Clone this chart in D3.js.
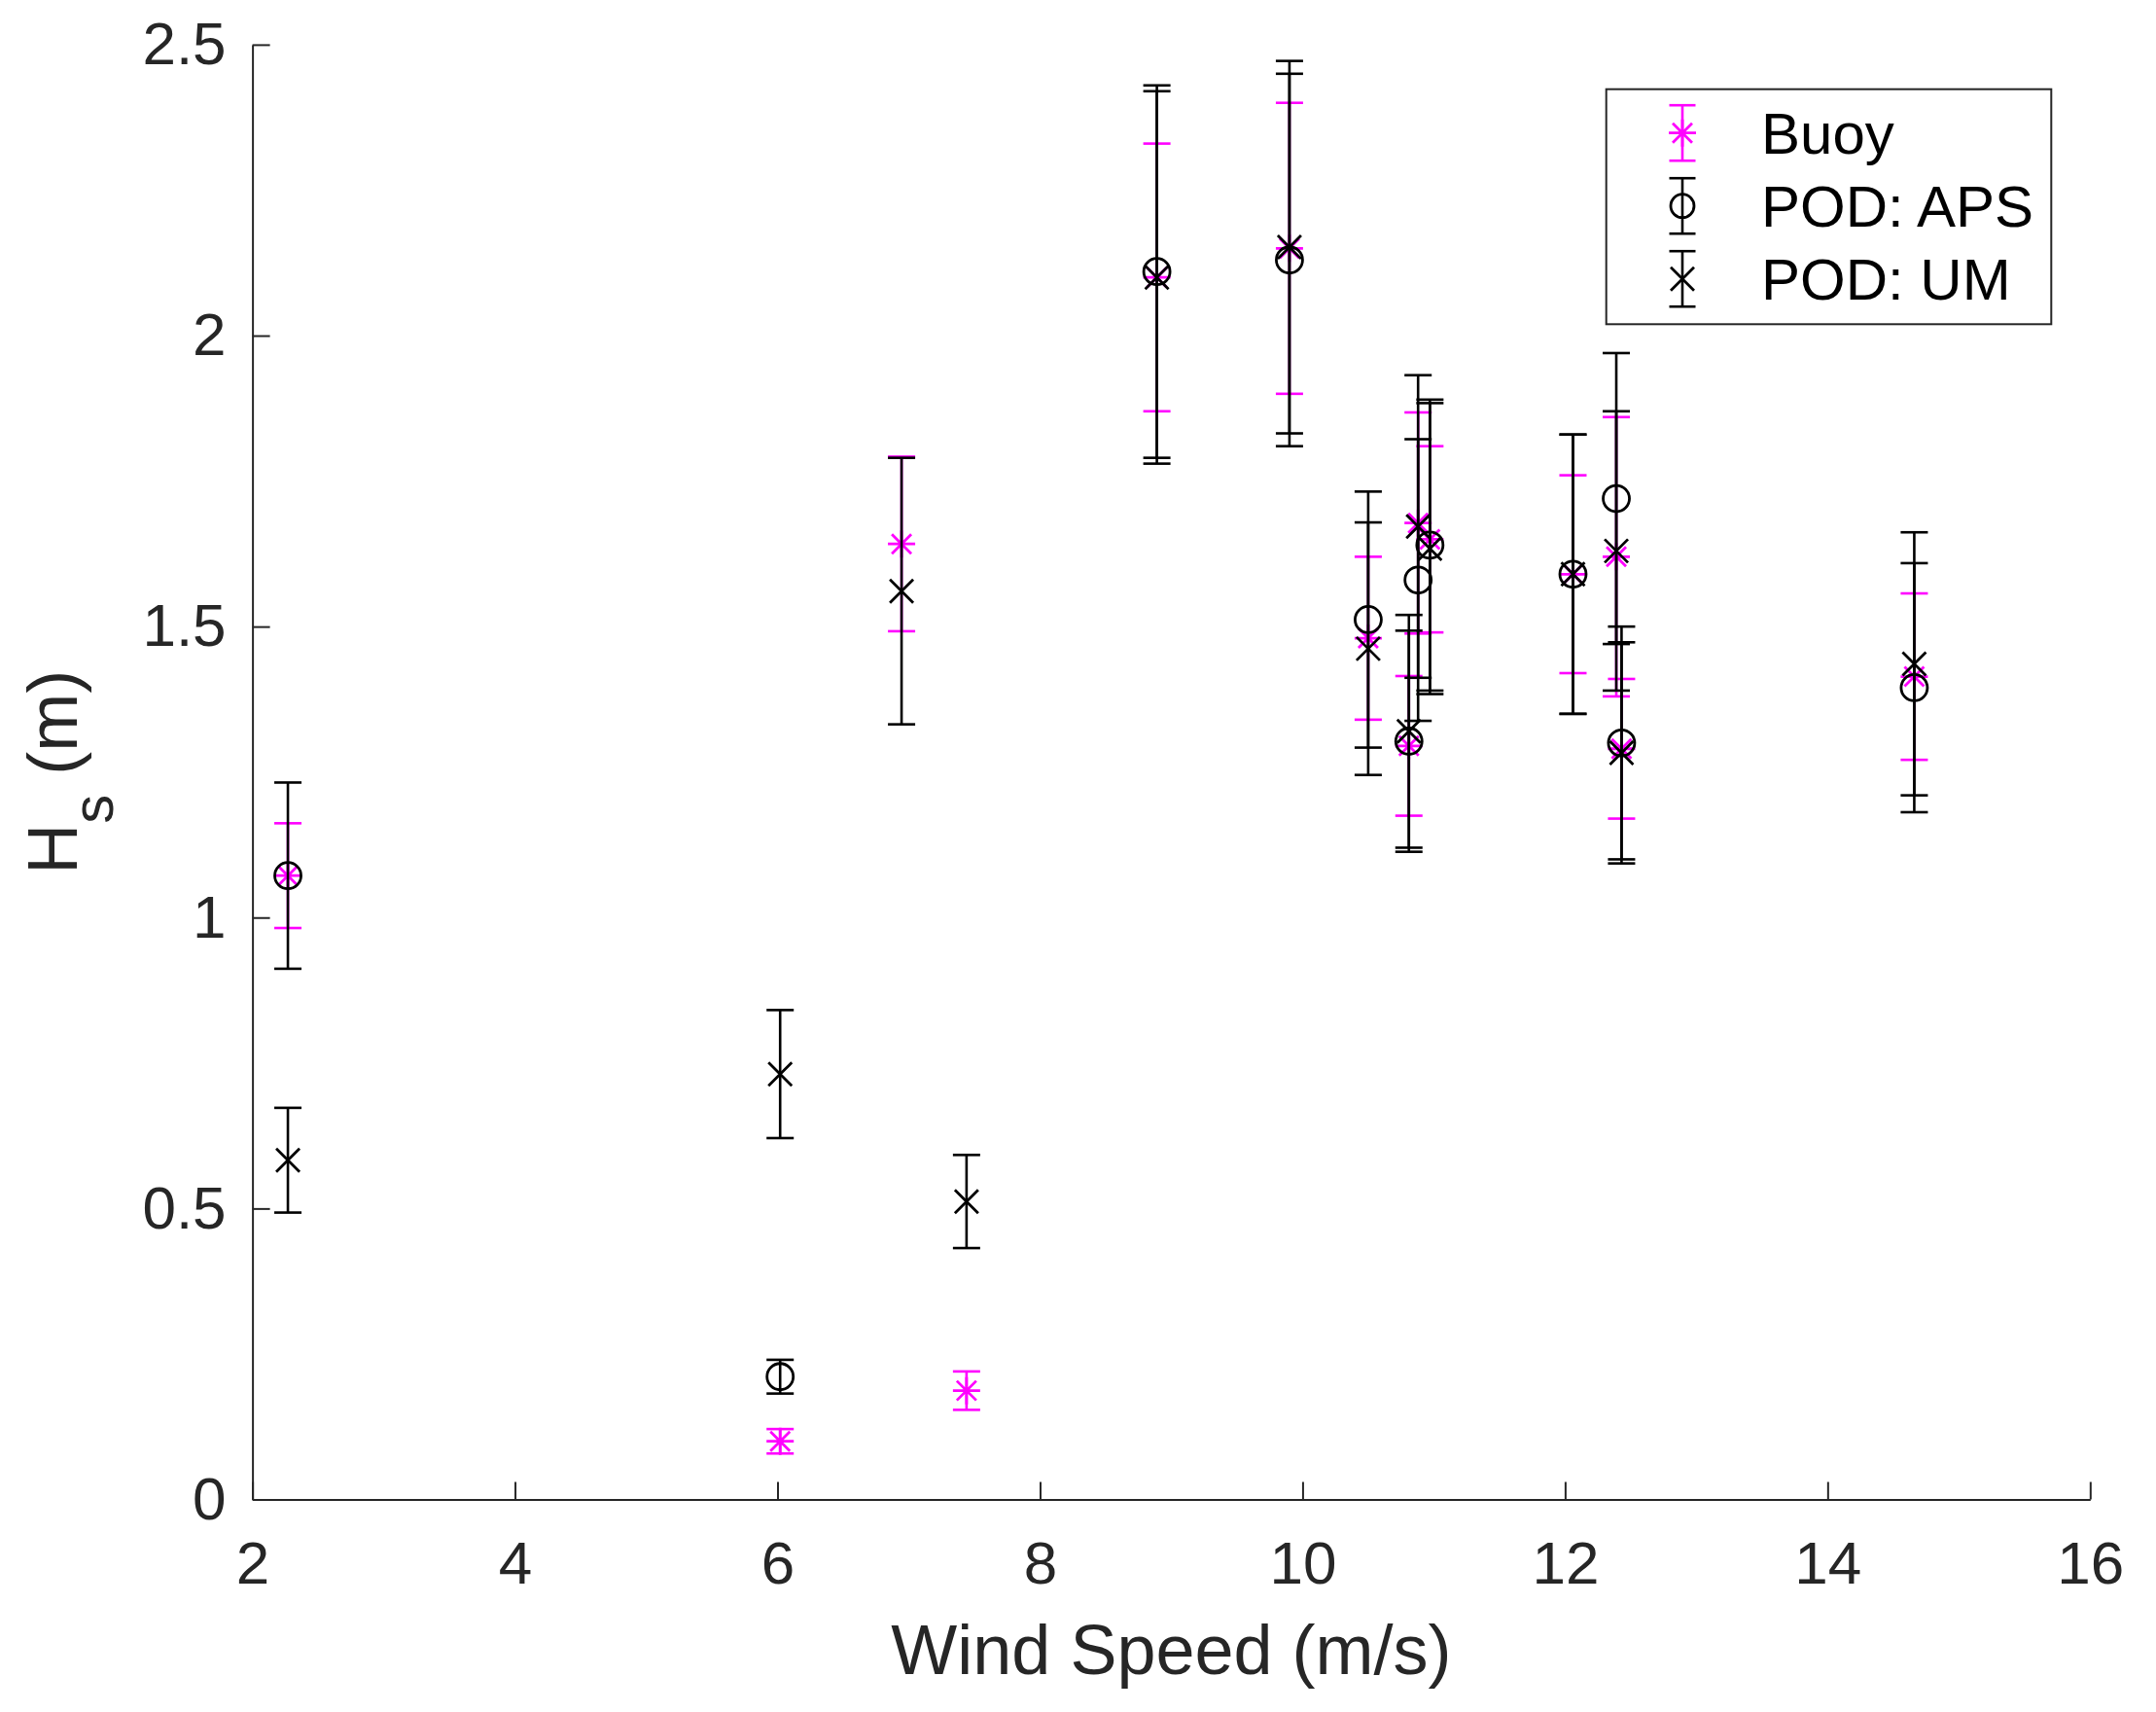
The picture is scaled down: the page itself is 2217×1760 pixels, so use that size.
<!DOCTYPE html>
<html>
<head>
<meta charset="utf-8">
<script src="https://cdn.jsdelivr.net/npm/d3@7"></script>
<style>
  html, body { margin: 0; padding: 0; background: #ffffff; }
  svg { display: block; font-family: "Liberation Sans", Arial, Helvetica, sans-serif; }
</style>
</head>
<body>
<svg id="chart" width="2217" height="1760"></svg>
<script>
// wind speed of each sample (m/s)
var windSpeed = [2.27, 6.02, 6.945, 7.44, 8.89, 9.90, 10.50, 10.81, 10.88, 10.97, 12.06, 12.39, 12.43, 14.66];

// significant wave height (m) and error half-widths
var buoyHs  = [1.072, 0.100, 1.642, 0.187, 2.100, 2.150, 1.480, 1.295, 1.678, 1.650, 1.590, 1.620, 1.290, 1.414];
var buoyErr = [0.090, 0.021, 0.150, 0.033, 0.230, 0.250, 0.140, 0.120, 0.190, 0.160, 0.170, 0.240, 0.120, 0.143];

var apsHs   = [1.072, 0.211, null, null, 2.110, 2.130, 1.512, 1.303, 1.580, 1.640, 1.590, 1.720, 1.300, 1.395];
var apsErr  = [0.160, 0.029, null, null, 0.320, 0.320, 0.220, 0.190, 0.242, 0.250, 0.240, 0.250, 0.200, 0.214];

var umHs    = [0.583, 0.731, 1.561, 0.512, 2.100, 2.152, 1.462, 1.320, 1.672, 1.634, 1.590, 1.630, 1.283, 1.436];
var umErr   = [0.090, 0.110, 0.229, 0.080, 0.320, 0.320, 0.217, 0.200, 0.260, 0.250, 0.240, 0.240, 0.190, 0.226];

var xTicks = [2, 4, 6, 8, 10, 12, 14, 16];
var yTicks = [0, 0.5, 1, 1.5, 2, 2.5];
var seriesNames = ["Buoy", "POD: APS", "POD: UM"];

var axisColour = "#262626";
var magenta = "#ff00ff";

var svg = d3.select("#chart");
svg.append("rect").attr("width", 2217).attr("height", 1760).attr("fill", "#ffffff");

var plot = { left: 259.6, right: 2149.3, top: 45.9, bottom: 1541.5 };

// scales
var xScale = d3.scaleLinear().domain([2, 16]).range([plot.left, plot.right]);
var yScale = d3.scaleLinear().domain([0, 2.5]).range([plot.bottom, plot.top]);

// axes, ticks pointing inward like matlab
var xAxis = d3.axisBottom(xScale)
	.tickValues(xTicks)
	.tickFormat(function(d) { return String(d); })
	.tickSizeInner(-18)
	.tickSizeOuter(0)
	.tickPadding(42);
var yAxis = d3.axisLeft(yScale)
	.tickValues(yTicks)
	.tickFormat(function(d) { return String(d); })
	.tickSizeInner(-18)
	.tickSizeOuter(0)
	.tickPadding(27);

var gx = svg.append("g")
	.attr("class", "axis x")
	.attr("transform", "translate(0," + plot.bottom + ")")
	.call(xAxis);
var gy = svg.append("g")
	.attr("class", "axis y")
	.attr("transform", "translate(" + plot.left + ",0)")
	.call(yAxis);

svg.selectAll(".axis path, .axis line")
	.style("stroke", axisColour)
	.style("stroke-width", 2);
svg.selectAll(".axis text")
	.style("fill", axisColour)
	.style("font-size", "62px")
	.style("font-family", "\"Liberation Sans\", Arial, Helvetica, sans-serif");

// axis labels
svg.append("text")
	.attr("x", (plot.left + plot.right) / 2)
	.attr("y", 1721)
	.style("text-anchor", "middle")
	.style("font-size", "72px")
	.style("fill", axisColour)
	.text("Wind Speed (m/s)");

var yLabel = svg.append("text")
	.attr("transform", "translate(78.6," + ((plot.top + plot.bottom) / 2) + ") rotate(-90)")
	.style("text-anchor", "middle")
	.style("font-size", "72px")
	.style("fill", axisColour);
yLabel.append("tspan").text("H");
yLabel.append("tspan").attr("dy", 37).style("font-size", "60px").text("s");
yLabel.append("tspan").attr("dy", -37).text(" (m)");

// marker shapes
var capHalf = 14;
function markerPath(kind) {
	if (kind === "star") {
		var r = 14, d = 10;
		return "M" + (-r) + ",0L" + r + ",0M0," + (-r) + "L0," + r +
			"M" + (-d) + "," + (-d) + "L" + d + "," + d + "M" + (-d) + "," + d + "L" + d + "," + (-d);
	}
	if (kind === "x") {
		var h = 12;
		return "M" + (-h) + "," + (-h) + "L" + h + "," + h + "M" + (-h) + "," + h + "L" + h + "," + (-h);
	}
	return null;
}

function drawSeries(values, errors, colour, kind) {
	var rows = windSpeed.map(function(x, i) {
		return { x: x, y: values[i], e: errors[i] };
	}).filter(function(d) { return d.y !== null; });

	var g = svg.append("g").attr("class", "series " + kind);
	var bars = g.selectAll(".bar")
		.data(rows)
		.enter()
		.append("g")
		.attr("class", "bar");

	bars.append("line")
		.attr("x1", function(d) { return xScale(d.x); })
		.attr("x2", function(d) { return xScale(d.x); })
		.attr("y1", function(d) { return yScale(d.y + d.e); })
		.attr("y2", function(d) { return yScale(d.y - d.e); });
	bars.append("line")
		.attr("x1", function(d) { return xScale(d.x) - capHalf; })
		.attr("x2", function(d) { return xScale(d.x) + capHalf; })
		.attr("y1", function(d) { return yScale(d.y + d.e); })
		.attr("y2", function(d) { return yScale(d.y + d.e); });
	bars.append("line")
		.attr("x1", function(d) { return xScale(d.x) - capHalf; })
		.attr("x2", function(d) { return xScale(d.x) + capHalf; })
		.attr("y1", function(d) { return yScale(d.y - d.e); })
		.attr("y2", function(d) { return yScale(d.y - d.e); });
	bars.selectAll("line")
		.style("stroke", colour)
		.style("stroke-width", 2.6);

	if (kind === "circle") {
		bars.append("circle")
			.attr("cx", function(d) { return xScale(d.x); })
			.attr("cy", function(d) { return yScale(d.y); })
			.attr("r", 13.5)
			.style("fill", "none")
			.style("stroke", colour)
			.style("stroke-width", 2.8);
	} else {
		bars.append("path")
			.attr("transform", function(d) { return "translate(" + xScale(d.x) + "," + yScale(d.y) + ")"; })
			.attr("d", markerPath(kind))
			.style("fill", "none")
			.style("stroke", colour)
			.style("stroke-width", 2.8);
	}
}

drawSeries(buoyHs, buoyErr, magenta, "star");
drawSeries(apsHs, apsErr, "#000000", "circle");
drawSeries(umHs, umErr, "#000000", "x");

// legend
var legend = svg.append("g").attr("class", "legend");
legend.append("rect")
	.attr("x", 1651.7)
	.attr("y", 91.7)
	.attr("width", 457.6)
	.attr("height", 241.6)
	.style("fill", "#ffffff")
	.style("stroke", axisColour)
	.style("stroke-width", 2);

var legendKinds = ["star", "circle", "x"];
var legendColours = [magenta, "#000000", "#000000"];
seriesNames.forEach(function(name, i) {
	var cy = 136.7 + i * 75;
	var cx = 1730;
	var item = legend.append("g");
	item.append("line").attr("x1", cx).attr("x2", cx).attr("y1", cy - 28.5).attr("y2", cy + 28.5);
	item.append("line").attr("x1", cx - 13.5).attr("x2", cx + 13.5).attr("y1", cy - 28.5).attr("y2", cy - 28.5);
	item.append("line").attr("x1", cx - 13.5).attr("x2", cx + 13.5).attr("y1", cy + 28.5).attr("y2", cy + 28.5);
	item.selectAll("line").style("stroke", legendColours[i]).style("stroke-width", 2.6);
	if (legendKinds[i] === "circle") {
		item.append("circle").attr("cx", cx).attr("cy", cy).attr("r", 12)
			.style("fill", "none").style("stroke", legendColours[i]).style("stroke-width", 2.8);
	} else {
		item.append("path").attr("transform", "translate(" + cx + "," + cy + ")")
			.attr("d", markerPath(legendKinds[i]))
			.style("fill", "none").style("stroke", legendColours[i]).style("stroke-width", 2.8);
	}
	item.append("text")
		.attr("x", 1811)
		.attr("y", cy + 21)
		.style("font-size", "60px")
		.style("fill", "#000000")
		.text(name);
});
</script>
</body>
</html>
